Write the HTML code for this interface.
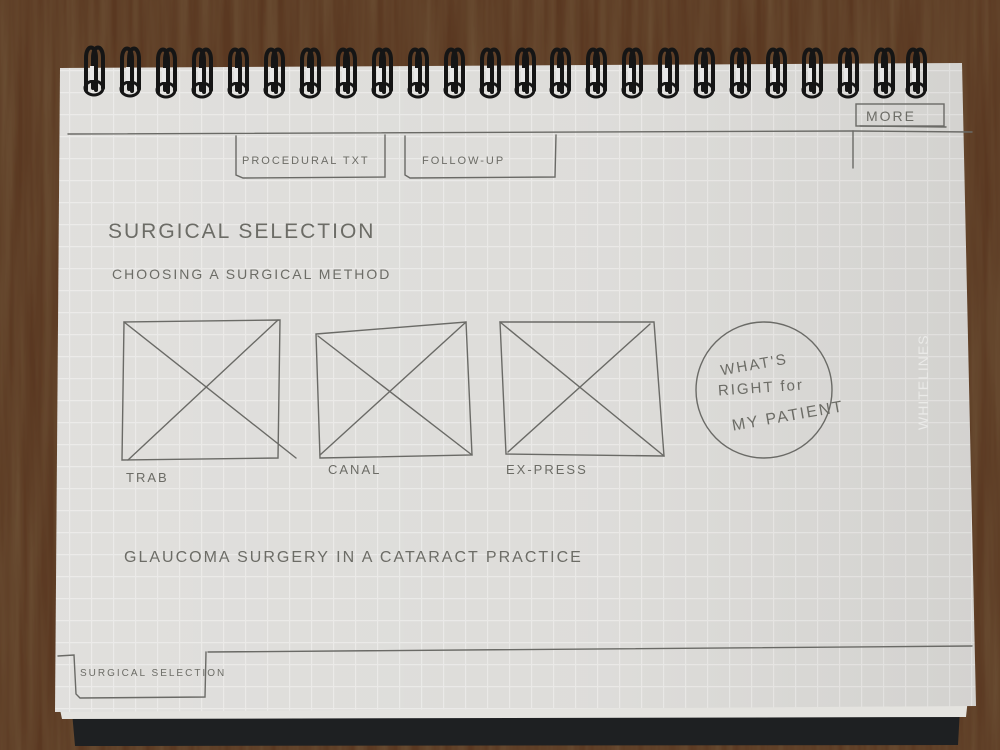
<!DOCTYPE html>
<html><head><meta charset="utf-8"><style>
html,body{margin:0;padding:0;width:1000px;height:750px;overflow:hidden;background:#4a2e1b}
svg{display:block}
.pen{fill:none;stroke:#6a6a66;stroke-width:1.4;stroke-linecap:round}
.t{font-family:"Liberation Sans",sans-serif;fill:#6c6c66;letter-spacing:2px}
</style></head><body>
<svg width="1000" height="750" viewBox="0 0 1000 750" xmlns="http://www.w3.org/2000/svg">
<defs>
<filter id="wood" x="0" y="0" width="100%" height="100%">
<feTurbulence type="fractalNoise" baseFrequency="0.09 0.004" numOctaves="3" seed="4"/>
<feColorMatrix values="0 0 0 0 0.16  0 0 0 0 0.09  0 0 0 0 0.04  0 0 0 -1.2 0.9"/>
</filter>
<pattern id="grid" width="22" height="22" patternUnits="userSpaceOnUse" x="3" y="4">
<rect width="22" height="22" fill="#dcdbd8"/>
<path d="M0 0.5H22M0.5 0V22" stroke="#e9e8e6" stroke-width="1.4"/>
</pattern>
<linearGradient id="shade" x1="0" y1="0" x2="1" y2="0">
<stop offset="0" stop-color="#fff" stop-opacity="0.12"/>
<stop offset="0.6" stop-color="#fff" stop-opacity="0.04"/>
<stop offset="1" stop-color="#000" stop-opacity="0.04"/>
</linearGradient>
<g id="ring" fill="none" stroke="#151515" stroke-linecap="round">
<path d="M-8 92 L-8 60 C-8 46,2 46,2 60 L2 92" stroke-width="4"/>
<path d="M-1 90 L-1 60 C-1 46,9 46,9 60 L9 90" stroke-width="4"/>
<ellipse cx="0" cy="90" rx="9" ry="7" stroke-width="3"/>
<rect x="-4" y="68" width="4" height="14" fill="#e8e8e8" stroke="none"/>
</g>
</defs>
<rect width="1000" height="750" fill="#5a3821"/>
<rect width="1000" height="750" filter="url(#wood)"/>
<!-- cover -->
<polygon points="72,712 960,708 958,745 75,746" fill="#1e2022"/>
<polygon points="58,700 968,698 966,717 62,719" fill="#e4e3df"/>
<!-- paper -->
<polygon points="60,68 962,63 976,706 55,712" fill="url(#grid)"/>
<polygon points="60,68 962,63 976,706 55,712" fill="url(#shade)"/>
<!-- rings -->
<use href="#ring" x="94" y="-2"/><use href="#ring" x="130" y="-1"/><use href="#ring" x="166" y="0"/>
<use href="#ring" x="202" y="0"/><use href="#ring" x="238" y="0"/><use href="#ring" x="274" y="0"/>
<use href="#ring" x="310" y="0"/><use href="#ring" x="346" y="0"/><use href="#ring" x="382" y="0"/>
<use href="#ring" x="418" y="0"/><use href="#ring" x="454" y="0"/><use href="#ring" x="490" y="0"/>
<use href="#ring" x="525" y="0"/><use href="#ring" x="560" y="0"/><use href="#ring" x="596" y="0"/>
<use href="#ring" x="632" y="0"/><use href="#ring" x="668" y="0"/><use href="#ring" x="704" y="0"/>
<use href="#ring" x="740" y="0"/><use href="#ring" x="776" y="0"/><use href="#ring" x="812" y="0"/>
<use href="#ring" x="848" y="0"/><use href="#ring" x="884" y="0"/><use href="#ring" x="916" y="0"/>
<!-- top line and tabs -->
<path class="pen" d="M68 134 L853 131 L972 132" stroke-width="1.2"/>
<path class="pen" d="M853 131 L853 168" stroke-width="1.1"/>
<path class="pen" d="M236 136 L236 175 L243 178 L385 177 L385 135"/>
<path class="pen" d="M405 136 L405 175 L410 178 L555 177 L556 135"/>
<text class="t" x="242" y="164" font-size="11">PROCEDURAL TXT</text>
<text class="t" x="422" y="164" font-size="11">FOLLOW-UP</text>
<rect class="pen" x="856" y="104" width="88" height="22"/>
<path class="pen" d="M860 126 L946 127"/>
<text class="t" x="866" y="121" font-size="14">MORE</text>
<!-- headings -->
<text class="t" x="108" y="238" font-size="21" letter-spacing="2.5">SURGICAL SELECTION</text>
<text class="t" x="112" y="279" font-size="14" letter-spacing="2.5">CHOOSING A SURGICAL METHOD</text>
<!-- boxes -->
<g class="pen">
<path d="M124 322 L280 320 L278 458 L122 460 Z"/><path d="M124 322 L296 458 M278 320 L128 460"/>
<path d="M316 334 L466 322 L472 455 L320 458 Z"/><path d="M318 336 L472 455 M466 322 L320 455"/>
<path d="M500 322 L654 322 L664 456 L506 454 Z"/><path d="M500 322 L664 456 M650 324 L508 452"/>
<ellipse cx="764" cy="390" rx="68" ry="68"/>
</g>
<text class="t" x="126" y="482" font-size="13">TRAB</text>
<text class="t" x="328" y="474" font-size="13">CANAL</text>
<text class="t" x="506" y="474" font-size="13">EX-PRESS</text>
<text class="t" x="720" y="372" font-size="15" fill="#505050" transform="rotate(-10 740 365)">WHAT'S</text>
<text class="t" x="718" y="394" font-size="15" fill="#505050" transform="rotate(-4 740 390)">RIGHT for</text>
<text class="t" x="730" y="424" font-size="16" fill="#505050" transform="rotate(-10 770 410)">MY PATIENT</text>
<text x="928" y="430" font-family="Liberation Sans,sans-serif" font-size="14" fill="#eaeae8" transform="rotate(-90 928 430)" letter-spacing="1">WHITELINES</text>
<text class="t" x="124" y="562" font-size="16" letter-spacing="2">GLAUCOMA SURGERY IN A CATARACT PRACTICE</text>
<!-- bottom tab -->
<path class="pen" d="M208 652 L972 646" stroke-width="1.2"/>
<path class="pen" d="M58 656 L74 655 L76 694 L80 698 L205 697 L206 652"/>
<text class="t" x="80" y="676" font-size="10" letter-spacing="1">SURGICAL SELECTION</text>
</svg>
</body></html>
